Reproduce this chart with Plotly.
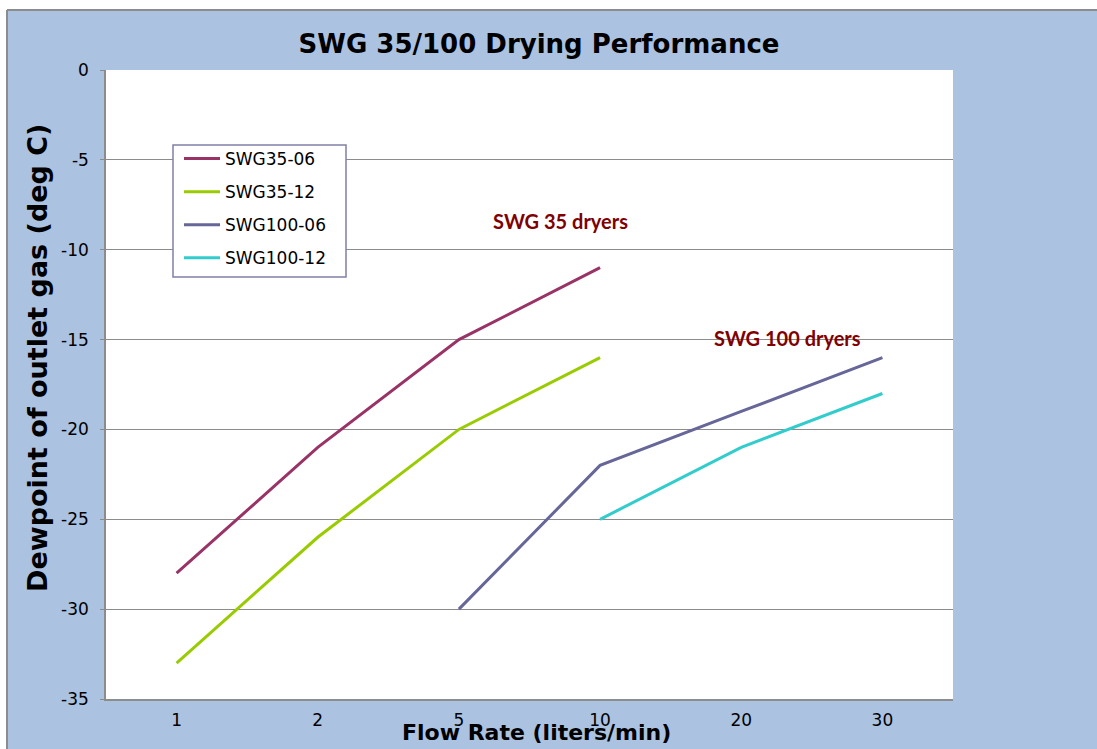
import plotly.graph_objects as go

categories = ["1", "2", "5", "10", "20", "30"]
swg35_06 = [-28, -21, -15, -11, None, None]
swg35_12 = [-33, -26, -20, -16, None, None]
swg100_06 = [None, None, -30, -22, -19, -16]
swg100_12 = [None, None, None, -25, -21, -18]
y_ticks = [0, -5, -10, -15, -20, -25, -30, -35]
y_tick_labels = ["0", "-5", "-10", "-15", "-20", "-25", "-30", "-35"]

series = [
    ("SWG35-06", swg35_06, "#993366"),
    ("SWG35-12", swg35_12, "#99CC00"),
    ("SWG100-06", swg100_06, "#666699"),
    ("SWG100-12", swg100_12, "#33CCCC"),
]

fig = go.Figure()
for name, vals, col in series:
    fig.add_trace(go.Scatter(x=categories, y=vals, mode="lines", name=name,
                             legendgroup=name,
                             line=dict(color=col, width=3), connectgaps=False))

W, H = 1097, 749
L, R, T, B = 106, 953, 70, 699
pw, ph = R - L, B - T

def px(x):
    return (x - L) / pw

def py(y):
    return (B - y) / ph

bg = "#ABC2E0"
grey = "#8C8C8C"
shapes = [
    dict(type="rect", xref="paper", yref="paper", x0=px(-5), x1=px(W + 5), y0=py(10), y1=py(-5),
         fillcolor="white", line=dict(width=0), layer="below"),
    dict(type="rect", xref="paper", yref="paper", x0=px(-5), x1=px(7), y0=py(H + 5), y1=py(-5),
         fillcolor="white", line=dict(width=0), layer="below"),
    dict(type="line", xref="paper", yref="paper", x0=px(7), x1=px(W + 5), y0=py(10), y1=py(10),
         line=dict(color=grey, width=2)),
    dict(type="line", xref="paper", yref="paper", x0=px(7), x1=px(7), y0=py(10), y1=py(H + 5),
         line=dict(color=grey, width=2)),
    # legend frame
    dict(type="rect", xref="paper", yref="paper", x0=px(173), x1=px(346), y0=py(277), y1=py(145),
         fillcolor="white", line=dict(color="#8080A8", width=1.5), layer="above"),
]

bold_font = "DejaVu Sans, Liberation Sans, Arial, sans-serif"
note_font = "Lato, Open Sans, sans-serif"

fig.update_layout(
    width=W, height=H,
    margin=dict(l=L, r=W - R, t=T, b=H - B, pad=0),
    paper_bgcolor=bg, plot_bgcolor="white",
    font=dict(family=bold_font, color="black"),
    title=dict(text="<b>SWG 35/100 Drying Performance</b>", x=539 / W, xanchor="center",
               y=1 - 44 / H, yanchor="middle",
               font=dict(size=26, color="black", family=bold_font)),
    showlegend=True,
    legend=dict(x=px(179), y=py(141), xanchor="left", yanchor="top",
                bgcolor="rgba(0,0,0,0)", borderwidth=0,
                font=dict(size=17, color="black", family=bold_font), tracegroupgap=8,
                itemwidth=36),
    xaxis=dict(type="category", range=[-0.5, 5.5], showgrid=False,
               showline=True, linecolor=grey, linewidth=1.5,
               ticks="outside", ticklen=5, tickcolor="rgba(0,0,0,0)",
               tickfont=dict(size=17, color="black"), zeroline=False),
    yaxis=dict(range=[-35, 0], tickvals=y_ticks, ticktext=y_tick_labels,
               showgrid=True, gridcolor=grey, gridwidth=1,
               showline=True, linecolor=grey, linewidth=1.5, zeroline=False,
               ticks="outside", ticklen=4, tickcolor=grey, ticklabelstandoff=8,
               tickfont=dict(size=17, color="black")),
    shapes=shapes,
    annotations=[
        dict(text="<b>Flow Rate (liters/min)</b>", xref="paper", yref="paper",
             x=px(536), y=py(733), xanchor="center", yanchor="middle", showarrow=False,
             font=dict(size=22, color="black", family=bold_font)),
        dict(text="<b>Dewpoint of outlet gas (deg C)</b>", xref="paper", yref="paper",
             x=px(37), y=py(358), xanchor="center", yanchor="middle", showarrow=False,
             textangle=-90, font=dict(size=27, color="black", family=bold_font)),
        dict(text="<b>SWG 35 dryers</b>", xref="paper", yref="paper", x=px(560), y=py(221),
             xanchor="center", yanchor="middle", showarrow=False,
             font=dict(size=20, color="#7F0000", family=note_font)),
        dict(text="<b>SWG 100 dryers</b>", xref="paper", yref="paper", x=px(787), y=py(338),
             xanchor="center", yanchor="middle", showarrow=False,
             font=dict(size=20, color="#7F0000", family=note_font)),
    ],
)

fig.write_html("out.html", config={"displayModeBar": False},
               post_script="document.body.style.margin='0';document.body.style.overflow='hidden';")
